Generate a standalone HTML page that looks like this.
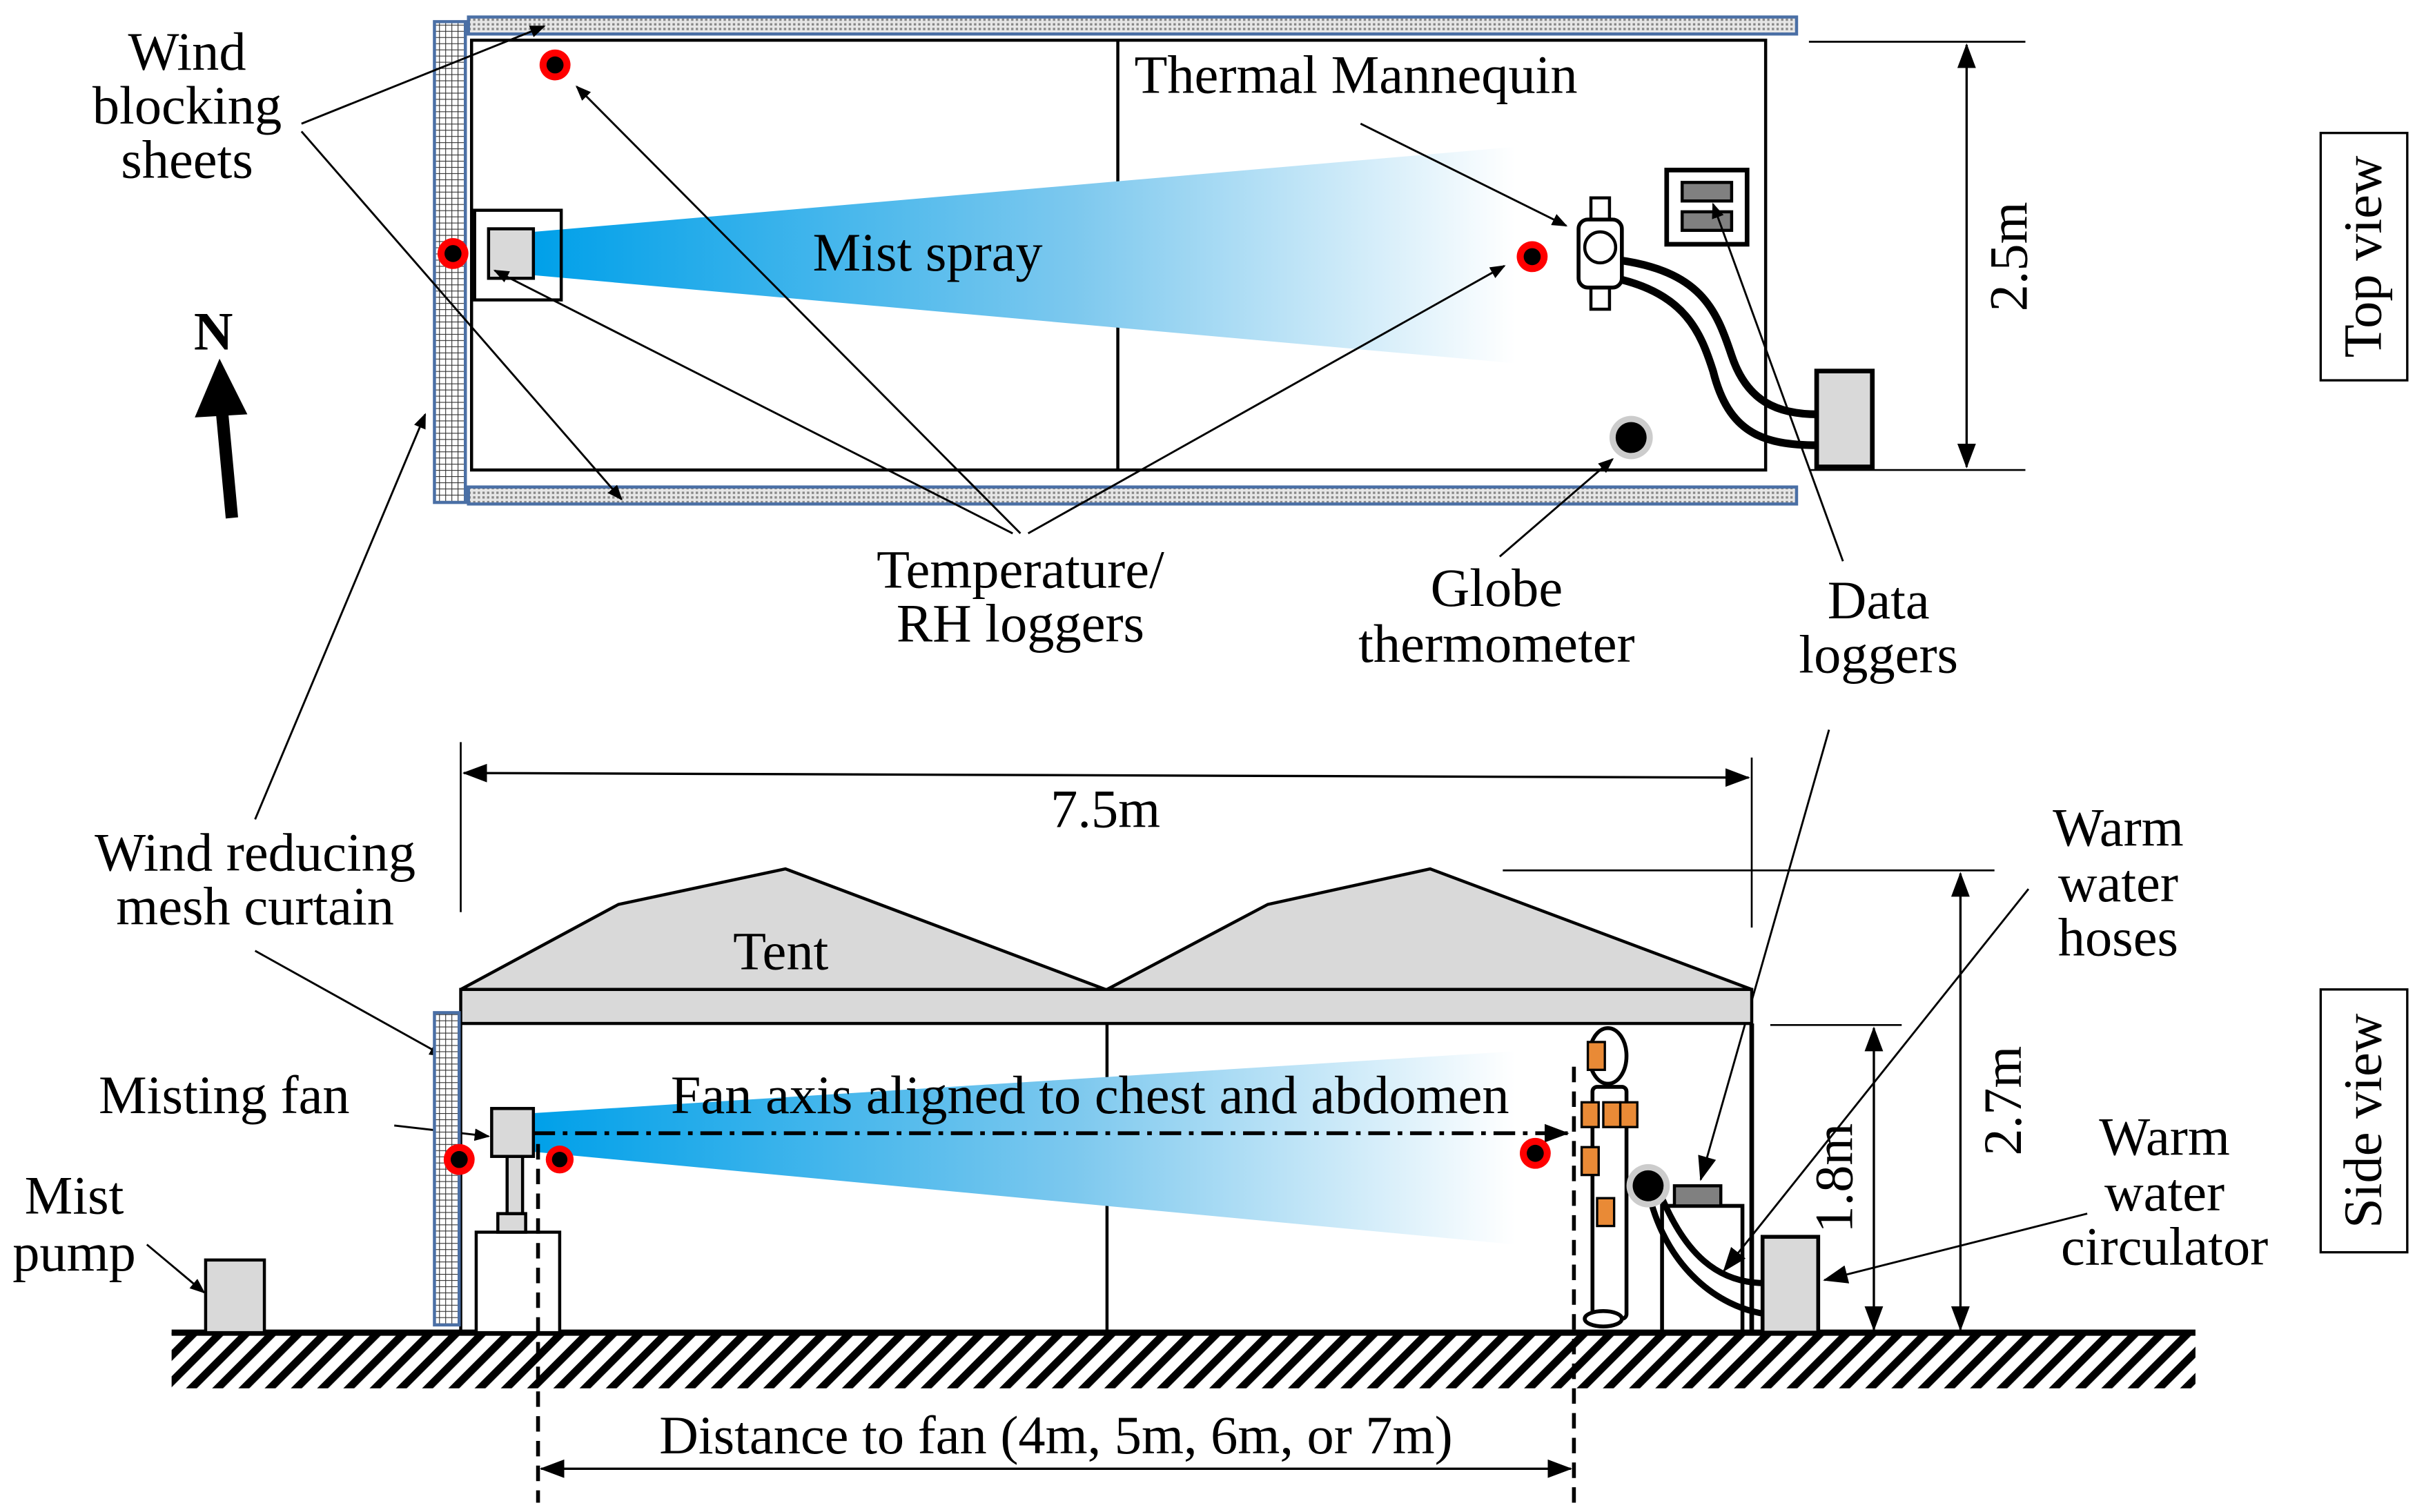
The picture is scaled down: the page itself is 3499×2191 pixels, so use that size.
<!DOCTYPE html>
<html><head><meta charset="utf-8"><style>
html,body{margin:0;padding:0;background:#fff;}
svg{display:block;}
text{font-family:"Liberation Serif",serif;font-size:35px;fill:#000;}
</style></head><body>
<svg width="3499" height="2191" viewBox="0 0 1562 978" preserveAspectRatio="none" xmlns="http://www.w3.org/2000/svg">
<defs>
<linearGradient id="g" x1="0" x2="1" y1="0" y2="0">
<stop offset="0" stop-color="#00a0e9"/><stop offset="0.55" stop-color="#7cc8ee"/><stop offset="1" stop-color="#ffffff"/>
</linearGradient>
<pattern id="dot" width="3" height="3" patternUnits="userSpaceOnUse"><rect width="3" height="3" fill="#e6e6e6"/><rect width="1.5" height="1.5" fill="#888"/></pattern>
<pattern id="mesh" width="4" height="4" patternUnits="userSpaceOnUse"><rect width="4" height="4" fill="#fff"/><path d="M0 0H4M0 0V4" stroke="#333" stroke-width="1"/></pattern>
<pattern id="hatch" width="12" height="12" patternUnits="userSpaceOnUse" patternTransform="rotate(45)"><rect width="12" height="12" fill="#fff"/><rect width="5" height="12" fill="#000"/></pattern>
<marker id="a" markerWidth="10" markerHeight="8" refX="9" refY="4" orient="auto" markerUnits="userSpaceOnUse"><path d="M0 0L10 4L0 8Z" fill="#000"/></marker>
<marker id="b" markerWidth="16" markerHeight="12" refX="15" refY="6" orient="auto" markerUnits="userSpaceOnUse"><path d="M0 0L16 6L0 12Z" fill="#000"/></marker>
<marker id="bs" markerWidth="16" markerHeight="12" refX="1" refY="6" orient="auto" markerUnits="userSpaceOnUse"><path d="M16 0L0 6L16 12Z" fill="#000"/></marker>
</defs>
<g fill="none" stroke="#000" stroke-width="2">
<rect x="303" y="11" width="859" height="11" fill="url(#dot)" stroke="#4a6fa5"/>
<rect x="303" y="315" width="859" height="11" fill="url(#dot)" stroke="#4a6fa5"/>
<rect x="281" y="14" width="20" height="311" fill="url(#mesh)" stroke="#4a6fa5"/>
<rect x="305" y="26" width="837" height="278"/>
<line x1="723" y1="26" x2="723" y2="304"/>
<polygon points="345,150 345,178 980,235 980,95" fill="url(#g)" stroke="none"/>
<rect x="307" y="136" width="56" height="58"/>
<rect x="316" y="148" width="29" height="32" fill="#d9d9d9"/>
<rect x="1078" y="110" width="52" height="48" stroke-width="3"/>
<rect x="1088" y="118" width="32" height="12" fill="#808080"/>
<rect x="1088" y="137" width="32" height="12" fill="#808080"/>
<path d="M1045 168 C1100 175 1110 200 1120 230 C1130 260 1150 268 1176 268" stroke-width="5"/>
<path d="M1045 180 C1090 190 1100 215 1108 240 C1118 280 1140 288 1176 288" stroke-width="5"/>
<rect x="1175" y="240" width="36" height="62" fill="#d9d9d9" stroke-width="3"/>
<rect x="1029" y="128" width="12" height="16" fill="#fff"/>
<rect x="1029" y="184" width="12" height="16" fill="#fff"/>
<rect x="1021" y="142" width="28" height="44" rx="6" fill="#fff" stroke-width="2.5"/>
<circle cx="1035" cy="160" r="10" fill="#fff"/>
<circle cx="1055" cy="283" r="14" fill="#ccc" stroke="none"/><circle cx="1055" cy="283" r="10" fill="#000" stroke="none"/>
<g stroke="none"><circle cx="359" cy="42" r="10" fill="red"/><circle cx="359" cy="42" r="5.5" fill="#000"/>
<circle cx="293" cy="164" r="10" fill="red"/><circle cx="293" cy="164" r="5.5" fill="#000"/>
<circle cx="991" cy="166" r="10" fill="red"/><circle cx="991" cy="166" r="5.5" fill="#000"/></g>
<line x1="1170" y1="27" x2="1310" y2="27" stroke-width="1.2"/>
<line x1="1170" y1="304" x2="1310" y2="304" stroke-width="1.2"/>
<line x1="1272" y1="29" x2="1272" y2="302" stroke-width="1.5" marker-start="url(#bs)" marker-end="url(#b)"/>
<rect x="1501" y="86" width="56" height="160" stroke-width="1.5"/>
<rect x="1501" y="640" width="56" height="170" stroke-width="1.5"/>
<line x1="150" y1="335" x2="143" y2="260" stroke-width="8"/>
<polygon points="126,270 142,232 160,268" fill="#000" stroke="none"/>
<g stroke-width="1.3">
<line x1="195" y1="80" x2="352" y2="17" marker-end="url(#a)"/>
<line x1="195" y1="85" x2="402" y2="323" marker-end="url(#a)"/>
<line x1="880" y1="80" x2="1013" y2="146" marker-end="url(#a)"/>
<line x1="660" y1="345" x2="373" y2="56" marker-end="url(#a)"/>
<line x1="655" y1="345" x2="320" y2="175" marker-end="url(#a)"/>
<line x1="665" y1="345" x2="973" y2="172" marker-end="url(#a)"/>
<line x1="970" y1="360" x2="1043" y2="297" marker-end="url(#a)"/>
<line x1="1192" y1="363" x2="1108" y2="132" marker-end="url(#a)"/>
<line x1="1183" y1="472" x2="1100" y2="763" marker-end="url(#b)"/>
<line x1="165" y1="530" x2="275" y2="268" marker-end="url(#a)"/>
<line x1="165" y1="615" x2="287" y2="683" marker-end="url(#a)"/>
<line x1="1312" y1="575" x2="1115" y2="822" marker-end="url(#b)"/>
<line x1="1350" y1="785" x2="1180" y2="828" marker-end="url(#b)"/>
<line x1="255" y1="728" x2="316" y2="735" marker-end="url(#a)"/>
<line x1="95" y1="805" x2="132" y2="836" marker-end="url(#a)"/>
</g>
<rect x="111" y="862" width="1309" height="36" fill="url(#hatch)" stroke="none"/>
<line x1="111" y1="862" x2="1420" y2="862" stroke-width="4"/>
<polygon points="298,640 400,585 508,562 715,640" fill="#d9d9d9"/>
<polygon points="716,640 820,585 925,562 1133,640" fill="#d9d9d9"/>
<rect x="298" y="640" width="835" height="22" fill="#d9d9d9"/>
<line x1="298" y1="662" x2="298" y2="862"/><line x1="716" y1="662" x2="716" y2="862"/><line x1="1133" y1="662" x2="1133" y2="862" stroke-width="3"/>
<rect x="281" y="655" width="16" height="202" fill="url(#mesh)" stroke="#4a6fa5"/>
<polygon points="345,720 345,745 980,805 980,680" fill="url(#g)" stroke="none"/>
<rect x="308" y="797" width="54" height="65" fill="#fff"/>
<rect x="322" y="785" width="18" height="12" fill="#d9d9d9"/>
<rect x="328" y="748" width="10" height="37" fill="#d9d9d9"/>
<rect x="318" y="717" width="27" height="31" fill="#d9d9d9"/>
<rect x="133" y="815" width="38" height="47" fill="#d9d9d9"/>
<line x1="345" y1="733" x2="1014" y2="733" stroke-width="2.5" stroke-dasharray="14,5,3,5" marker-end="url(#b)"/>
<line x1="348" y1="740" x2="348" y2="972" stroke-width="2.5" stroke-dasharray="10,6"/>
<line x1="1018" y1="690" x2="1018" y2="972" stroke-width="2.5" stroke-dasharray="10,6"/>
<line x1="350" y1="950" x2="1016" y2="950" stroke-width="1.5" marker-start="url(#bs)" marker-end="url(#b)"/>
<g stroke="none"><circle cx="297" cy="750" r="10" fill="red"/><circle cx="297" cy="750" r="5.5" fill="#000"/>
<circle cx="362" cy="750" r="9" fill="red"/><circle cx="362" cy="750" r="5" fill="#000"/>
<circle cx="993" cy="746" r="10" fill="red"/><circle cx="993" cy="746" r="5.5" fill="#000"/></g>
<ellipse cx="1040" cy="683" rx="12" ry="18" fill="#fff" stroke-width="2.5"/>
<rect x="1030" y="703" width="22" height="150" rx="3" fill="#fff" stroke-width="2.5"/>
<ellipse cx="1037" cy="853" rx="12" ry="5" fill="#fff" stroke-width="2.5"/>
<g fill="#e98a36" stroke="#000" stroke-width="1.5">
<rect x="1027" y="674" width="11" height="18"/><rect x="1023" y="713" width="11" height="16"/><rect x="1037" y="713" width="11" height="16"/><rect x="1048" y="713" width="11" height="16"/><rect x="1023" y="742" width="11" height="18"/><rect x="1033" y="775" width="11" height="18"/></g>
<path d="M1068 778 C1080 820 1110 845 1142 850" stroke-width="4"/>
<path d="M1075 775 C1090 810 1110 830 1142 830" stroke-width="4"/>
<circle cx="1066" cy="767" r="14" fill="#ccc" stroke="none"/><circle cx="1066" cy="767" r="10" fill="#000" stroke="none"/>
<rect x="1075" y="780" width="52" height="82" fill="none" stroke-width="2.5"/>
<rect x="1083" y="767" width="30" height="13" fill="#808080"/>
<rect x="1140" y="800" width="36" height="62" fill="#d9d9d9" stroke-width="2.5"/>
<line x1="298" y1="480" x2="298" y2="590" stroke-width="1.2"/>
<line x1="1133" y1="490" x2="1133" y2="600" stroke-width="1.2"/>
<line x1="300" y1="500" x2="1131" y2="503" stroke-width="1.5" marker-start="url(#bs)" marker-end="url(#b)"/>
<line x1="972" y1="563" x2="1290" y2="563" stroke-width="1.2"/>
<line x1="1268" y1="565" x2="1268" y2="860" stroke-width="1.5" marker-start="url(#bs)" marker-end="url(#b)"/>
<line x1="1145" y1="663" x2="1230" y2="663" stroke-width="1.2"/>
<line x1="1212" y1="665" x2="1212" y2="860" stroke-width="1.5" marker-start="url(#bs)" marker-end="url(#b)"/>
</g>
<g text-anchor="middle">
<text x="121" y="45">Wind</text><text x="121" y="80">blocking</text><text x="121" y="115">sheets</text>
<text x="877" y="60">Thermal Mannequin</text>
<text x="600" y="175">Mist spray</text>
<text x="660" y="380">Temperature/</text><text x="660" y="415">RH loggers</text>
<text x="968" y="392">Globe</text><text x="968" y="428">thermometer</text>
<text x="1215" y="400">Data</text><text x="1215" y="435">loggers</text>
<text x="715" y="535">7.5m</text>
<text x="165" y="563">Wind reducing</text><text x="165" y="598">mesh curtain</text>
<text x="505" y="627">Tent</text>
<text x="1370" y="547">Warm</text><text x="1370" y="583">water</text><text x="1370" y="618">hoses</text>
<text x="705" y="720">Fan axis aligned to chest and abdomen</text>
<text x="145" y="720">Misting fan</text>
<text x="48" y="785">Mist</text><text x="48" y="822">pump</text>
<text x="1400" y="747">Warm</text><text x="1400" y="783">water</text><text x="1400" y="818">circulator</text>
<text x="683" y="940">Distance to fan (4m, 5m, 6m, or 7m)</text>
<text x="138" y="226" font-weight="bold" font-family="Liberation Sans, sans-serif" font-size="30">N</text>
<text transform="translate(1311,166) rotate(-90)">2.5m</text>
<text transform="translate(1307,712) rotate(-90)">2.7m</text>
<text transform="translate(1198,762) rotate(-90)">1.8m</text>
<text transform="translate(1540,166) rotate(-90)">Top view</text>
<text transform="translate(1540,725) rotate(-90)">Side view</text>
</g>
</svg>
</body></html>
